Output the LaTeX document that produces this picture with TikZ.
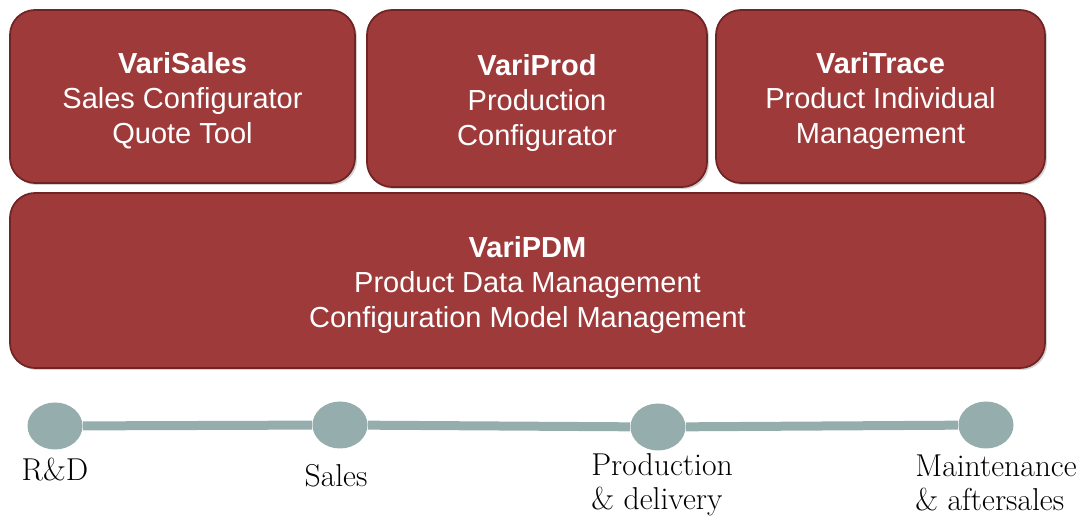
\documentclass[tikz,border=0pt]{standalone}
\usepackage{fontspec}
\usepackage{tikz}
\usetikzlibrary{shapes,positioning,shadows,shapes.geometric}
\usepackage{xcolor}
\newfontfamily\boxfont{Liberation Sans}
\definecolor{boxred}{RGB}{158,58,58}
\definecolor{boxedge}{RGB}{112,36,36}
\definecolor{phase}{RGB}{149,173,172}
\newcommand{\topgap}{\rule{0pt}{0.6cm}}

\begin{document}
\begin{tikzpicture}[
    module/.style={rectangle, rounded corners=0.5cm, draw=boxedge, line width=1pt, fill=boxred, text=white, align=center, font=\boxfont\fontsize{16.5}{20}\selectfont, drop shadow={opacity=0.35, shadow xshift=0.04cm, shadow yshift=-0.04cm}},
    dot/.style={ellipse, fill=phase, minimum width=1.1cm, minimum height=0.94cm, inner sep=0pt},
    phaselabel/.style={align=left, font=\fontsize{18}{19.5}\selectfont},
    link/.style={draw=phase, line width=0.18cm}
]
\useasboundingbox (0,0) rectangle (21.78,-10.34);

\node[module, minimum width=6.9cm, minimum height=3.46cm] (varisales) at (3.65,-1.93) {\topgap\textbf{VariSales}\\Sales Configurator\\Quote Tool};
\node[module, minimum width=6.8cm, minimum height=3.54cm] (variprod) at (10.74,-1.97) {\topgap\textbf{VariProd}\\Production\\Configurator};
\node[module, minimum width=6.58cm, minimum height=3.46cm] (varitrace) at (17.61,-1.93) {\topgap\textbf{VariTrace}\\Product Individual\\Management};
\node[module, minimum width=20.7cm, minimum height=3.5cm] (varipdm) at (10.55,-5.61) {\topgap\textbf{VariPDM}\\Product Data Management\\Configuration Model Management};

\node[dot] (rnd) at (1.1,-8.52) {};
\node[dot] (sales) at (6.8,-8.5) {};
\node[dot] (production) at (13.16,-8.54) {};
\node[dot] (maintenance) at (19.72,-8.5) {};

\draw[link] (rnd) -- (sales) -- (production) -- (maintenance);

\node[phaselabel] (rndlabel) at (1.1,-9.4) {R\&D};
\node[phaselabel] (saleslabel) at (6.72,-9.52) {Sales};
\node[phaselabel] (productionlabel) at (13.24,-9.7) {Production\\\& delivery};
\node[phaselabel] (maintenancelabel) at (19.92,-9.66) {Maintenance\\\& aftersales};

\end{tikzpicture}
\end{document}
